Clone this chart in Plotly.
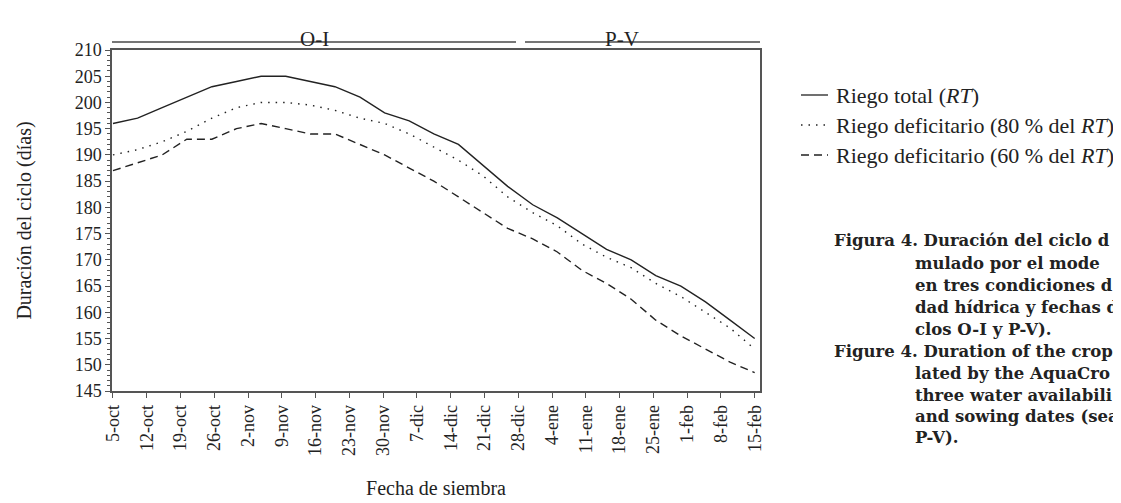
import plotly.graph_objects as go

# Tick labels (weekly sowing dates)
date_labels = ["5-oct", "12-oct", "19-oct", "26-oct", "2-nov", "9-nov", "16-nov", "23-nov",
               "30-nov", "7-dic", "14-dic", "21-dic", "28-dic", "4-ene", "11-ene", "18-ene",
               "25-ene", "1-feb", "8-feb", "15-feb"]
date_days = [0, 7, 14, 21, 28, 35, 42, 49, 56, 63, 70, 77, 84, 91, 98, 105, 112, 119, 126, 133]

# Simulated points (days after 5-oct)
sim_days = [0, 5.1, 10.2, 15.3, 20.5, 25.6, 30.7, 35.8, 40.9, 46.0, 51.2, 56.3, 61.4, 66.5,
            71.6, 76.7, 81.8, 87.0, 92.1, 97.2, 102.3, 107.4, 112.5, 117.7, 122.8, 127.9, 133.0]

rt_total = [196, 197, 199, 201, 203, 204, 205, 205, 204, 203, 201, 198, 196.5, 194,
            192, 188, 184, 180.5, 178, 175, 172, 170, 167, 165, 162, 158.5, 155]
rt_80 = [190, 191, 192.5, 194.5, 197, 199, 200, 200, 199.5, 198.5, 197, 196, 194, 191.5,
         189, 186, 182, 179, 176.5, 173, 170.5, 168.5, 165.5, 163, 160, 157, 153]
rt_60 = [187, 188.5, 190, 193, 193, 195, 196, 195, 194, 194, 192, 190, 187.5, 185,
         182, 179, 176, 174, 171.5, 168, 165.5, 162.5, 158.5, 155.5, 153, 150.5, 148.5]

series_names = ["Riego total (<i>RT</i>)",
                "Riego deficitario (80 % del <i>RT</i>)",
                "Riego deficitario (60 % del <i>RT</i>)"]
series_dash = ["solid", "1.5px,6px", "8px,5px"]

caption_lines = ["Figura 4. Duración del ciclo d", "mulado por el mode", "en tres condiciones d",
                 "dad hídrica y fechas d", "clos O-I y P-V).", "Figure 4. Duration of the crop",
                 "lated by the AquaCro", "three water availabili", "and sowing dates (sea", "P-V)."]

FONT = "Liberation Serif"
CAP_FONT = "DejaVu Serif"
LINE = "#222222"
AX = "#555555"

fig = go.Figure()
for vals, name, dash in zip([rt_total, rt_80, rt_60], series_names, series_dash):
    fig.add_trace(go.Scatter(x=sim_days, y=vals, mode="lines", name=name,
                             line=dict(color=LINE, width=1.4, dash=dash), showlegend=False))

W, H = 1121, 503
L, R, T, B = 104, 752, 42, 383
pw, ph = R - L, B - T

def px(x):
    return (x - L) / pw

def py(y):
    return 1 - (y - T) / ph

shapes = []
annotations = []

# Season brackets above the plot
shapes.append(dict(type="line", xref="paper", yref="paper", x0=px(104), x1=px(508),
                   y0=py(34), y1=py(34), line=dict(color="#777777", width=2)))
shapes.append(dict(type="line", xref="paper", yref="paper", x0=px(517), x1=px(752),
                   y0=py(34), y1=py(34), line=dict(color="#777777", width=2)))
annotations.append(dict(text="O-I", xref="paper", yref="paper", x=px(290), y=py(17),
                        showarrow=False, font=dict(family=FONT, size=21, color="#222")))
annotations.append(dict(text="P-V", xref="paper", yref="paper", x=px(633), y=py(17),
                        showarrow=False, font=dict(family=FONT, size=21, color="#222")))

# Legend drawn manually
leg_y = [87, 117, 147]
for yy, name, dash in zip(leg_y, series_names, series_dash):
    shapes.append(dict(type="line", xref="paper", yref="paper", x0=px(793), x1=px(820),
                       y0=py(yy), y1=py(yy), line=dict(color=LINE, width=1.3, dash=dash)))
    annotations.append(dict(text=name, xref="paper", yref="paper", x=px(826), y=py(yy),
                            xanchor="left", yanchor="middle", showarrow=False,
                            font=dict(family=FONT, size=22, color="#222")))

# Caption
cap_y = [233, 255, 277, 299, 321, 343, 365, 387, 408, 429]
for i, (yy, txt) in enumerate(zip(cap_y, caption_lines)):
    xx = 824 if i in (0, 5) else 905
    annotations.append(dict(text="<b>" + txt + "</b>", xref="paper", yref="paper", x=px(xx), y=py(yy),
                            xanchor="left", yanchor="middle", showarrow=False,
                            font=dict(family=CAP_FONT, size=16.5, color="#222")))

fig.update_layout(
    width=W, height=H,
    margin=dict(l=L, r=W - R, t=T, b=H - B),
    paper_bgcolor="white", plot_bgcolor="white",
    font=dict(family=FONT, size=17, color="#222"),
    shapes=shapes, annotations=annotations,
)
fig.update_xaxes(range=[-0.2, 134.1], tickmode="array", tickvals=date_days, ticktext=date_labels,
                 tickangle=-90, ticks="outside", ticklen=5, tickcolor=AX, showgrid=False,
                 zeroline=False, showline=True, linecolor=AX, linewidth=1.5, mirror=True,
                 tickfont=dict(family=FONT, size=18),
                 title=dict(text="Fecha de siembra", font=dict(family=FONT, size=20), standoff=26))
fig.update_yaxes(range=[145, 210], dtick=5, tick0=145, ticks="outside", ticklen=5, tickcolor=AX,
                 minor=dict(dtick=1, ticks="outside", ticklen=3, tickcolor=AX),
                 showgrid=False, zeroline=False, showline=True, linecolor=AX, linewidth=1.5,
                 mirror=True, tickfont=dict(family=FONT, size=18),
                 title=dict(text="Duración del ciclo (días)", font=dict(family=FONT, size=20), standoff=38))

fig.write_html("out.html")
